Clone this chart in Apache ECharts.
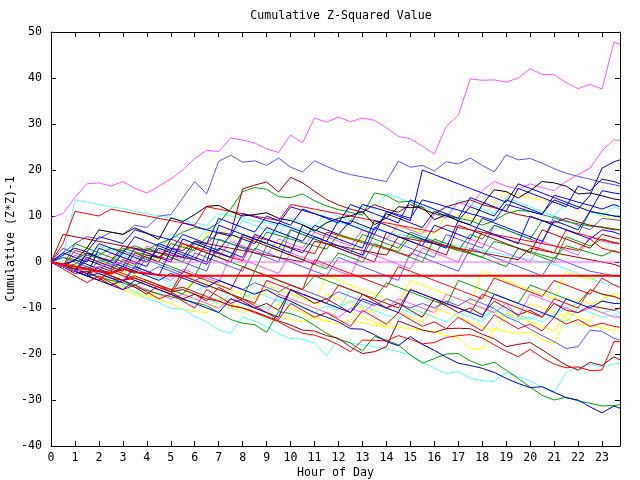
<!DOCTYPE html>
<html>
<head>
<meta charset="utf-8">
<title>Cumulative Z-Squared Value</title>
<script src="https://cdn.jsdelivr.net/npm/echarts@6/dist/echarts.min.js"></script>
<style>
html,body{margin:0;padding:0;background:#fff;}
#chart{width:640px;height:480px;}
</style>
</head>
<body>
<div id="chart"></div>
<script>
/*------------------------- data -------------------------*/
// hour of day for every sample (half hours, last one is 23:45)
var hours = [0,0.5,1,1.5,2,2.5,3,3.5, 4,4.5,5,5.5,6,6.5,7,7.5, 8,8.5,9,9.5,10,10.5,11,11.5,
    12,12.5,13,13.5,14,14.5,15,15.5, 16,16.5,17,17.5,18,18.5,19,19.5, 20,20.5,21,21.5,22,22.5,23,23.5, 23.75];
var hourTicks = [0,1,2,3,4,5,6,7,8,9,10,11,12,13,14,15,16,17,18,19,20,21,22,23];
var valueTicks = [-40,-30,-20,-10,0,10,20,30,40,50];

// cumulative (z*z)-1 per series
var magentaTop = [9.6,10.5,14,17,17.2,16.5,17.5,16, 15,16.5,18,20,22.5,24.3,24,27, 26.5,25.9,24.6,23.8,27.6,25.9,31.3,30.4,
    31.5,30.5,31.3,30.8,29.2,27.3,26.8,25.2, 23.5,29.5,31.9,39.8,39.5,39.6,39.1,40, 42,40.8,40.7,39,37.7,38.6,37.6,47.8, 47.3];
var blueHigh = [0,2,4,5.5,5,6.5,6,8, 7.5,10,10.3,13.9,17.5,14.8,21.9,23.2, 21.7,22,21,22.6,20.6,19.6,22,20.8,
    19.7,19,18.5,18,17.5,21.9,20.6,21, 19.8,21.8,21.3,22.6,21,19.6,23.3,22.2, 22.5,21.5,20.3,19.3,18.6,18,17.3,16.8, 16.5];
var magentaLate = [0,-1,1.5,0.5,-0.5,2,1,0, 3.5,2.5,1.5,0.5,3,2,1,4.5, 3.5,2.5,1.5,5,4,3,6.5,5.5,
    4.5,3.5,7,6,5,8,7,6, 10.5,9.5,13,12,15.5,17.5,16.5,15.8, 17,16.2,15.5,17.5,19,20.4,24.2,26.6, 26.4];
var navyRise = [0,-1,-2,0.5,-0.5,-1.5,2,1, 0,3,2,1,4.5,3.5,2.5,6, 5,4,7.5,6.5,5.5,4.5,8,7,
    6,9,8,7,10.5,9.5,8.5,7.5, 11,10,9,12,11,10,13.5,12.5, 11.5,10.5,13.5,12.5,11.5,14.5,20.4,21.8, 22.2];
var blackA = [0,-0.5,0.3,3,7,6.5,6,7.4, 6.3,4.9,9.6,8.8,10.3,12.1,12.3,11, 10,10.3,10.7,9.5,9,8.1,6.7,8.5,
    9.5,10,11,8.1,9.6,12,11.8,12, 9.2,10.3,8.9,8.1,12.4,15.7,15.3,13.9, 15.5,17.5,17.2,16.5,14.8,15,14.4,13.7, 13.5];
var darkRedPeak = [0,-1,-1.5,-2.5,-1,-2,0.5,-0.5, 1.5,1,3,2.5,4.5,4,6.5,6, 15.9,16.7,17.4,15.2,18.4,17.2,15.4,13.6,
    12.4,11.5,10.8,12.5,11.5,10.8,12.5,11.5, 10.5,12,12.8,13.5,12.5,11.8,11,10.3, 9.8,9,8.5,9.5,8.7,8,7.5,7, 7];
var greenHigh = [0,1,0.5,2,1.5,3,2.5,3.5, 2.5,4,5,6.5,7.5,7,8.5,11.5, 15.3,16.2,15.8,14.2,14,14.8,13.3,12.2,
    11.4,10.8,10.2,15,14.5,13,13.2,11.5, 10.5,10,9.5,9,8,9,10.5,11.2, 11,10.3,9.6,8.8,8.3,7.8,7.6,7.2, 7];
var cyanLow = [0,-1,-1.8,-2.5,-3.5,-4,-5,-6.5, -8,-8.8,-10.1,-10.2,-11.9,-13,-14.8,-15.5, -12,-12.8,-14,-15.6,-16.6,-16.8,-17.6,-20.4,
    -16.8,-17.6,-18,-18.4,-18.9,-19.5,-20.2,-21.7, -23.1,-24.3,-23.8,-25.3,-25.8,-26,-24,-25, -25.8,-27.2,-28.5,-24,-22.9,-22.2,-22.8,-22.2, -22];
var greenLow = [0,-0.8,-1.5,-2.5,-3.2,-4,-4.5,-5.5, -6.2,-7,-7.5,-8.2,-8.8,-9.5,-11,-12.5, -13.3,-13.6,-15.3,-10.8,-11.2,-12.2,-13.8,-15.5,
    -16.8,-17.6,-19.3,-16.2,-17,-18,-20.2,-22, -21,-20,-19.9,-21.5,-22.5,-21.8,-23.5,-25.3, -27.2,-29,-30,-29.4,-30.2,-30.7,-31.3,-31.2, -31];
var navyLow = [0,-1,0.5,-0.5,-1.5,-2.5,-1,-2, -3,-4,-2.5,-3.5,-4.5,-5.5,-4,-5, -6,-7,-6,-7.5,-8.5,-9.8,-11,-12,
    -13,-14.5,-14.6,-15.8,-17.3,-18.2,-16.2,-17.9, -19.2,-20.7,-22,-22.5,-23.1,-24,-25.3,-26.4, -27.3,-27.1,-28.3,-29.5,-30,-31.5,-32.8,-31.3, -31.8];
var redLow = [0,-1,-2,-1.5,-2.5,-3.5,-4,-3, -4,-5,-6,-5.5,-6.5,-7.5,-8.5,-9.5, -10,-11,-12,-13,-14.4,-15.5,-15.9,-16.8,
    -18,-19.5,-17,-17,-17.2,-16,-16.8,-17.8, -17.5,-16.4,-16,-15.8,-16.5,-18,-19.4,-20.6, -19,-20.8,-22.2,-23,-22.8,-23.6,-23.5,-17.3, -17.3];
var darkRedLow = [0,-0.5,-1.5,-2.5,-1.8,-3,-4,-3.5, -4.5,-5.5,-6.5,-6,-7,-8,-8.5,-9.5, -10,-10.8,-11.8,-12.8,-13.7,-14.8,-15,-16,
    -16.6,-18.5,-19.9,-19.5,-18.4,-12.8,-13.8,-14.8, -15.3,-14.5,-14.4,-14.5,-15.7,-16.7,-18.4,-17.9, -17.5,-19.1,-20.8,-22.4,-23.5,-21.8,-22.5,-20.6, -21.3];
var yellowLow = [0,-1,-2,-3,-3.5,-4.5,-5.5,-6.5, -7.3,-8.2,-9,-10.3,-10.8,-11,-9,-10, -11,-10,-10.8,-11.8,-12.5,-13,-12,-12.8,
    -13.5,-12.5,-13.2,-13.7,-14.1,-14.2,-14.5,-14.8, -15.2,-15.9,-16.5,-18.8,-19,-14.4,-15.1,-15.5, -15.2,-16.8,-17.8,-12.2,-13.5,-13.8,-14.3,-14.8, -15];
var blueFall = [0,1,0,-1,-2,0.5,-0.5,-1.5, -2.5,-1,-2,-3,-4,-3,-4,-5, -6,-4.5,-5.5,-6.5,-5,-6,-7,-8,
    -6.5,-7.5,-8.5,-9.5,-8,-9,-10,-9, -10,-8.5,-9.5,-8,-9,-10.1,-11.9,-13, -14.6,-16,-17.3,-18.8,-18.4,-14.8,-15.1,-16.6, -17];
var magentaFlat = [0,-1,-2,-1.5,-1,-0.5,0,0, 0,0,0,0,0,0,0,0, 0,0,0,0,0,0,0,0,
    0,0,0,0,0,0,0,0, 0,0,0,0,0,0,0,0, 0,0,0,0,0,0,0,0, 0];
var redFlat = [0,-0.5,-1,-1.5,-2,-2.5,-1.5,-2.2, -2.5,-2.8,-3,-3,-3,-3,-3,-3, -3,-3,-3,-3,-3,-3,-3,-3,
    -3,-3,-3,-3,-3,-3,-3,-3, -3,-3,-3,-3,-3,-3,-3,-3, -3,-3,-3,-3,-3,-3,-3,-3, -3];
var blueA = [0,1.5,3,2.2,5.5,4.8,4,7, 6.2,5.5,4.8,8.5,7.8,7,6.3,5.6, 10.5,9.8,9,8.3,12,11.2,10.5,9.7,
    9,8.3,12.5,11.8,11,10.3,9.5,13.5, 12.8,12,11.3,10.5,9.8,9,12.5,11.8, 11,10.3,14.5,13.8,13,12.3,11.5,12.5, 12];
var redA = [0,-1,2.5,1.8,1,0.3,3.5,2.8, 2,1.2,0.5,4,3.2,2.5,1.8,1, 0.3,5.5,4.8,4,3.2,2.5,1.8,6.5,
    5.8,5,4.2,3.5,2.8,2,1.3,5, 4.3,3.5,2.8,2,6.5,5.8,5,4.2, 3.5,2.8,2,7,6.2,5.5,4.8,4.2, 4];
var greenA = [0,-1,-0.5,1.5,0.8,0,3,2.2, 1.5,0.8,4,3.2,2.5,5.5,4.8,4, 3.2,2.5,6.5,5.8,5,4.2,3.5,2.8,
    6,5.2,4.5,3.8,3,2.3,5.5,4.8, 4,3.3,2.5,1.8,1,4.5,3.8,3, 2.3,1.5,0.8,3.5,2.8,2,1.3,2.5, 2];
var cyanA = [0,1,13.5,13,12.5,12,11.6,11, 10.5,10,9.5,9,8.5,8,10.5,10, 9.5,9,8.5,8,7.5,7,6.5,9,
    8.5,8,7.5,7,6.5,6,5.5,5, 4.5,4,3.5,3,2.5,2,1.5,1, 0.5,0,-0.5,-1.5,-2.5,-3.5,-4.5,-5, -5];
var yellowA = [0,-1,-1.5,3.5,3,2.5,2,1.5, 1,0.5,4,3.5,3,6.5,6,5.5, 5,4.5,4,3.5,3,7,6.5,6,
    5.5,5,4.5,8.5,8,7.5,7,6.5, 6,10.5,10,9.5,9,13,15,14.5, 14,13.5,13,12.5,12,11.5,10,9.5, 9];
var darkRedA = [0,6,5.5,5,4.5,4,3.5,3, 2.5,2,1.5,1,0.5,4,3.5,3, 2.5,2,1.5,1,0.5,0,4.5,4,
    3.5,3,2.5,2,1.5,5.5,5,4.5, 4,3.5,3,2.5,2,1.5,1,0.5, 3,2.5,2,1.5,1,0.5,0,-0.5, -1];
var blueB = [0,-1,-2,-3,-2.5,-3.5,-4.5,-1, -2,-3,2.5,1.5,0.5,-0.5,3,2, 1,6,5,4,3,2,5.5,4.5,
    3.5,2.5,1.5,7.5,6.5,5.5,4.5,3.5, 8,7,6,5,9.5,8.5,7.5,6.5, 5.5,4.5,9,8,7,11,10.5,10, 9.8];
var redB = [0,-1,-2,-3,-4,-1.5,-2.5,-3.5, -4.5,-5.5,-6.5,-2,-3,-4,-5,-6, -1,-2,-3,-4,-5,-6,0.5,-0.5,
    -1.5,-2.5,-3.5,-4.5,-5.5,-1,-2,-3, -4,-5,-6,-7,-8,-3.5,-4.5,-5.5, -6.5,-7.5,-4,-5,-6,-7,-3.5,-5, -5.5];
var greenB = [0,-1,-2,-1,-2,-3,-4,-5, -4,-5,-6,-7,-4,-5,-6,-7, -8,-2,-3,-4,-5,-6,-3,-4,
    -5,-6,-7,-8,-4.5,-5.5,-6.5,-7.5, -8.5,-9.5,-4,-5,-6,-7,-8,-9, -5,-6,-7,-8,-9,-6,-7,-7.5, -8];
var cyanB = [0,-1,-2,-3,-4,-3,-4,-5, -6,-7,-5,-6,-7,-8,-9,-7, -8,-9,-10,-8,-9,-10,-11,-9.5,
    -10.5,-6,-7,-8,-9,-10,-11,-12, -8,-9,-10,-11,-12,-10.5,-11.5,-12.5, -12,-13,-11.5,-10,-9,-10,-11,-10.5, -11];
var magentaB = [0,-1,-2,-3,-4,-5,-4,-5, -6,-7,-8,-7,-8,-9,-10,-8, -9,-10,-11,-7,-8,-9,-10,-11,
    -12,-10,-11,-9,-10,-8,-9,-10, -11,-7,-8,-9,-10,-11,-9,-12, -7,-8,-9,-10,-11,-10,-11,-12, -12];
var blueC = [0,-1,-2,-3,-4,-5,-6,-4, -5,-6,-7,-8,-9,-10,-11,-8, -9,-10,-11,-12,-6,-7,-8,-9,
    -10,-11,-8,-9,-10,-11,-6,-7, -8,-9,-10,-11,-12,-7,-8,-9, -10,-11,-12,-8,-9,-10,-8.5,-9, -9];
var yellowB = [0,-1,-2,-3,-4,-5,-6,-7, -8,-6,-7,-8,-9,-10,-8,-9, -10,-11,-12,-9,-10,-11,-12,-13,
    -10,-11,-12,-13,-14,-11,-12,-13, -10,-11,-12,-13,-14,-15,-11,-12, -13,-14,-15,-11,-12,-13,-8,-7, -7];
var darkRedB = [0,-1,-2,1,0,-1,-2,2, 1,0,5,4,3,2,1,0, 5.5,4.5,3.5,2.5,1.5,0.5,-0.5,4,
    3,2,1,0,6.5,5.5,4.5,3.5, 2.5,1.5,8,7,6,5,4,3, 2,7,6,5,4,3,6,5.3, 5];
var blueD = [0,3,2,1,0,-1,2.5,1.5, 0.5,-0.5,-1.5,-2.5,2,1,0,-1, -2,3,2,1,0,-1,-2,-3,
    1,0,-1,-2,-3,-4,2,1, 0,-1,-2,3,2,1,0,-1, -2,-3,1,0,-1,-2,-2.5,-3, -3];
var redC = [0,-1,-2,-3,-4,-2,-3,-4, -5,-6,-7,-3,-4,-5,-6,-7, -8,-9,-4,-5,-6,-7,-8,-9,
    -5,-6,-7,-8,-9,-10,-6,-7, -8,-9,-10,-11,-7,-8,-9,-10, -11,-12,-8,-9,-10,-6,-7,-7.5, -8];
var greenC = [0,-1,4,3,2,1,0,-1, 3,2,1,0,4,3,2,1, 6,5,4,3,7,6,5,4,
    3,2,6,5,4,3,6.5,5.5, 4.5,3.5,2.5,6,5,8,7,6, 5,9,8,7,6,11,10.5,10, 10];
var blueE = [0,-1,-2,-3,3,2,1,0, -1,4,3,2,1,0,8,7, 6,5,4,3,2,8,7,6,
    5,4,3,9,8,7,6,5, 4,3,9,8,7,6,5,4, 10,9,8,7,6,5,7,6.5, 6];
var redD = [0,4,11,10.5,10,11.5,11,10.5, 10,9.5,9,8.5,8,12,11.5,11, 10.5,10,9.5,9,12.5,12,11.5,11,
    10.5,10,9.5,9,8.5,8,7.5,7, 6.5,8,7.5,7,6.5,6,5.5,5, 4.5,4,3.5,3,2.5,5,3,2.3, 2];
var cyanC = [0,-1,1.5,0.5,3.5,2.5,1.5,0.5, 3,2,6,5,4,7.5,6.5,5.5, 9,8,7,6,9.5,8.5,7.5,11,
    10,9,12.5,11.5,14.8,14,13,12, 11,10,13.5,12.5,11.5,10.5,14,13, 12,11,10,13,12,11,10,12, 11.5];
var blueF = [0,-1,-2,2,1,0,-1,3, 2,1,0,5,4,3,2,1, 6,5,4,8.5,7.5,6.5,5.5,4.5,
    9,8,7,6,11,10,9,20, 19,18,17,16,15,14,13,17, 16,15,14,13,12,11,15.5,15, 14.8];
var redE = [0,-1.5,-3,-4.5,-3,-4.5,-6,-5, -6.5,-8,-7,-8.5,-10,-6,-7.5,-9, -8,-9.5,-11,-12.5,-9,-10.5,-12,-11,
    -12.5,-14,-10.5,-12,-13.5,-11,-12.5,-14, -13,-14.5,-12,-13.5,-15,-11.5,-13,-14.5, -13.5,-15,-12,-13.5,-12.5,-14,-13.3,-14, -14.2];
var darkRedC = [0,-1,-2.5,-2,-3.5,-5,-4,-5.5, -7,-5,-6.5,-8,-7,-8.5,-5.5,-7, -8.5,-10,-9,-10.5,-6,-7.5,-9,-8,
    -9.5,-11,-7,-8.5,-10,-9,-10.5,-12, -8,-9.5,-11,-10,-11.5,-8.5,-10,-11.5, -10.5,-12,-9,-10.5,-11,-9.5,-10,-10.5, -10];
var cyanD = [0,-0.5,-1.5,-2.5,-1,-2,-3,-4, -2.5,-3.5,-4.5,-5.5,-6.5,-5,-6,-7, -8,-6.5,-7.5,-8.5,-9.5,-7,-8,-9,
    -10,-8.5,-9.5,-10.5,-11.5,-12.5,-10,-11, -12,-13,-11,-12,-13,-9.5,-10.5,-11.5, -12.5,-11,-12,-13,-10,-11,-12,-11.5, -12];
var yellowC = [0,-1,-2,-3,-4,-5,-2,-3, -4,-5,-6,-7,-3,-4,-5,-6, -7,-8,-6,-7,-8,-9,-10,-7,
    -8,-9,-10,-11,-8,-9,-10,-11, -12,-7,-8,-9,-10,-11,-12,-13, -9,-10,-11,-12,-8,-9,-8.5,-9, -9];
var magentaC = [0,-1,-2,-1,-2,-3,-4,-1, -2,-3,-4,-1.5,-2.5,-3.5,-4.5,1.5, 0.5,-0.5,-1.5,-2.5,2,1,0,-1,
    -2,-3,2.5,1.5,0.5,-0.5,-1.5,3, 2,1,0,5,4,3,2,1, 0,4.5,3.5,2.5,1.5,5.5,4.5,4, 4];
var blueG = [0,2,1,0,4,3,2,5.5, 4.5,3.5,2.5,6,5,4,9.5,8.5, 7.5,6.5,10,9,8,11.5,10.5,9.5,
    8.5,12.5,11.5,10.5,9.5,8.5,13.5,12.5, 11.5,10.5,9.5,14,13,12,11,16, 15,14,13,12,16.5,15.5,18,17.5, 17];
var greenD = [0,-1,-2,-3,0.5,-0.5,-1.5,-2.5, 1,0,-1,-2,-3,2,1,0, -1,-2,3.5,2.5,1.5,0.5,-0.5,-1.5,
    2,1,0,4,3,2,1,0, 5,4,3,2,1,0,-1,3, 2,1,0,5.5,4.5,3.5,5,4.3, 4];
var blueH = [0,-1,-2,2,1,0,-1,-2, 3,2,1,0,-1,-2,5,4, 3,2,1,0,7,6,5,4,
    3,2,1,6,5,4,3,2, 1,6,5,4,3,8,7,6, 5,4,10,9,8,7,9.5,9.2, 9];
var yellowD = [0,-1,-2,-3,-4,-2,-3,-4, -5,-6,-7,-8,-4,-5,-6,-7, -8,-9,-5,-6,-7,-8,-9,-3,
    -4,-5,-6,-7,-8,-9,-4,-5, -6,-7,-8,-9,-2,-3,-4,-5, -6,-7,-8,-2,-3,-4,-2.5,-3, -3];

/*------------------------- series list -------------------------*/
var lines = [
    {data: yellowA, color: '#ffff00'},
    {data: yellowB, color: '#ffff00'},
    {data: yellowC, color: '#ffff00'},
    {data: yellowD, color: '#ffff00'},
    {data: yellowLow, color: '#ffff00'},
    {data: cyanA, color: '#55ffff'},
    {data: cyanB, color: '#55ffff'},
    {data: cyanC, color: '#55ffff'},
    {data: cyanD, color: '#55ffff'},
    {data: cyanLow, color: '#55ffff'},
    {data: magentaB, color: '#ff55ff'},
    {data: magentaC, color: '#ff55ff'},
    {data: magentaLate, color: '#ff55ff'},
    {data: blueD, color: '#5555ff'},
    {data: blueH, color: '#5555ff'},
    {data: blueFall, color: '#5555ff'},
    {data: blueHigh, color: '#5555ff'},
    {data: greenA, color: '#00a000'},
    {data: greenB, color: '#00a000'},
    {data: greenC, color: '#00a000'},
    {data: greenD, color: '#00a000'},
    {data: greenHigh, color: '#00a000'},
    {data: greenLow, color: '#00a000'},
    {data: darkRedA, color: '#a00000'},
    {data: darkRedB, color: '#a00000'},
    {data: darkRedC, color: '#a00000'},
    {data: darkRedPeak, color: '#a00000'},
    {data: darkRedLow, color: '#a00000'},
    {data: redA, color: '#ff0000'},
    {data: redB, color: '#ff0000'},
    {data: redC, color: '#ff0000'},
    {data: redD, color: '#ff0000'},
    {data: redE, color: '#ff0000'},
    {data: redLow, color: '#ff0000'},
    {data: blueA, color: '#0000ff'},
    {data: blueB, color: '#0000ff'},
    {data: blueC, color: '#0000ff'},
    {data: blueE, color: '#0000ff'},
    {data: blueF, color: '#0000ff'},
    {data: blueG, color: '#0000ff'},
    {data: navyRise, color: '#0000c0'},
    {data: navyLow, color: '#0000c0'},
    {data: blackA, color: '#000000'},
    {data: magentaTop, color: '#ff55ff'},
    {data: magentaFlat, color: '#ff55ff'},
    {data: redFlat, color: '#ff0000', width: 2}
];

var monoFont = '"DejaVu Sans Mono", monospace';

var series = lines.map(function (l) {
    return {
        type: 'line',
        data: hours.map(function (h, i) { return [h, l.data[i]]; }),
        showSymbol: false,
        silent: true,
        lineStyle: {color: l.color, width: l.width || 1},
        itemStyle: {color: l.color}
    };
});

/*------------------------- chart -------------------------*/
var myChart = echarts.init(document.getElementById('chart'), null, {renderer: 'canvas'});
var boxLine = {show: true, onZero: false, lineStyle: {color: '#000', width: 1}};
var option = {
    animation: false,
    backgroundColor: '#fff',
    title: {
        text: 'Cumulative Z-Squared Value',
        left: 336,
        top: 5,
        textAlign: 'center',
        textStyle: {fontFamily: monoFont, fontSize: 11.6, fontWeight: 'normal', color: '#000'}
    },
    grid: {left: 51, right: 20, top: 32, bottom: 34, containLabel: false, outerBoundsMode: 'none'},
    xAxis: [
        {
            type: 'value', min: 0, max: 23.75, position: 'bottom',
            name: 'Hour of Day', nameLocation: 'middle', nameGap: 21, nameMoveOverlap: false,
            nameTextStyle: {fontFamily: monoFont, fontSize: 11.6, color: '#000'},
            axisLine: boxLine,
            axisTick: {inside: true, length: 5, customValues: hourTicks, lineStyle: {color: '#000'}},
            axisLabel: {customValues: hourTicks, fontFamily: monoFont, fontSize: 11.6, color: '#000', margin: 6},
            splitLine: {show: false}
        },
        {
            type: 'value', min: 0, max: 23.75, position: 'top',
            axisLine: boxLine,
            axisTick: {inside: true, length: 5, customValues: hourTicks, lineStyle: {color: '#000'}},
            axisLabel: {show: false},
            splitLine: {show: false}
        }
    ],
    yAxis: [
        {
            type: 'value', min: -40, max: 50, interval: 10, position: 'left',
            name: 'Cumulative (Z*Z)-1', nameLocation: 'middle', nameGap: 34, nameMoveOverlap: false,
            nameTextStyle: {fontFamily: monoFont, fontSize: 11.6, color: '#000'},
            axisLine: boxLine,
            axisTick: {inside: true, length: 5, customValues: valueTicks, lineStyle: {color: '#000'}},
            axisLabel: {customValues: valueTicks, fontFamily: monoFont, fontSize: 11.6, color: '#000', margin: 9},
            splitLine: {show: false}
        },
        {
            type: 'value', min: -40, max: 50, interval: 10, position: 'right',
            axisLine: boxLine,
            axisTick: {inside: true, length: 5, customValues: valueTicks, lineStyle: {color: '#000'}},
            axisLabel: {show: false},
            splitLine: {show: false}
        }
    ],
    series: series
};
myChart.setOption(option);
</script>
</body>
</html>
